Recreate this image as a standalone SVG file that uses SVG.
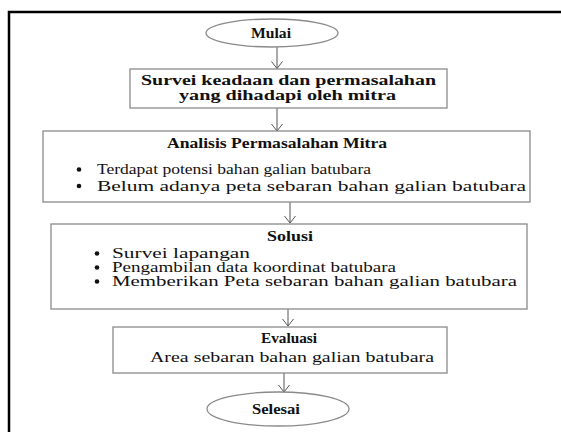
<svg xmlns="http://www.w3.org/2000/svg" width="561" height="432" viewBox="0 0 561 432">
<defs>
<marker id="ah" markerWidth="10" markerHeight="12" refX="8" refY="6" orient="auto" markerUnits="userSpaceOnUse" viewBox="0 0 10 12">
<polyline points="1,0.5 8,6 1,11.5" fill="none" stroke="#555" stroke-width="1"/>
</marker>
</defs>
<style>
.box{fill:#fff;stroke:#8a8a8a;stroke-width:1.3}
.t{font-family:"Liberation Serif","Times New Roman",serif;font-size:14px;fill:#111}
.b{font-weight:bold}
.c{text-anchor:middle}
.ln{stroke:#555;stroke-width:1;fill:none;marker-end:url(#ah)}
.dot{fill:#111}
</style>
<rect width="561" height="432" fill="#fff"/>
<path d="M9,432 V12 H561" fill="none" stroke="#000" stroke-width="2.5"/>
<g id="connectors">
<line class="ln" x1="277" y1="47" x2="277" y2="68.5"/>
<line class="ln" x1="277" y1="108" x2="277" y2="131"/>
<line class="ln" x1="290" y1="202" x2="290" y2="223"/>
<line class="ln" x1="288" y1="309" x2="288" y2="326"/>
<line class="ln" x1="284" y1="373" x2="284" y2="392"/>
</g>
<g id="mulai">
<ellipse class="box" cx="272" cy="33" rx="66" ry="14"/>
<text class="t b c" x="271" y="38" textLength="40" lengthAdjust="spacingAndGlyphs">Mulai</text>
</g>
<g id="survei">
<rect class="box" x="130" y="69" width="317" height="39"/>
<text class="t b c" x="288.5" y="85" textLength="295" lengthAdjust="spacingAndGlyphs">Survei keadaan dan permasalahan</text>
<text class="t b c" x="287.5" y="99.5" textLength="217" lengthAdjust="spacingAndGlyphs">yang dihadapi oleh mitra</text>
</g>
<g id="analisis">
<rect class="box" x="43" y="131" width="487" height="71"/>
<text class="t b c" x="277" y="147.5" textLength="220" lengthAdjust="spacingAndGlyphs">Analisis Permasalahan Mitra</text>
<circle class="dot" cx="79" cy="169.5" r="2.3"/>
<text class="t" x="97" y="174" textLength="274" lengthAdjust="spacingAndGlyphs">Terdapat potensi bahan galian batubara</text>
<circle class="dot" cx="79" cy="186" r="2.3"/>
<text class="t" x="97" y="190.5" textLength="429" lengthAdjust="spacingAndGlyphs">Belum adanya peta sebaran bahan galian batubara</text>
</g>
<g id="solusi">
<rect class="box" x="51" y="224" width="476" height="85"/>
<text class="t b c" x="290" y="241" textLength="46" lengthAdjust="spacingAndGlyphs">Solusi</text>
<circle class="dot" cx="97" cy="253.5" r="2.3"/>
<text class="t" x="112" y="258" textLength="138" lengthAdjust="spacingAndGlyphs">Survei lapangan</text>
<circle class="dot" cx="97" cy="267.5" r="2.3"/>
<text class="t" x="112" y="272" textLength="284" lengthAdjust="spacingAndGlyphs">Pengambilan data koordinat batubara</text>
<circle class="dot" cx="97" cy="281.5" r="2.3"/>
<text class="t" x="112" y="286" textLength="405" lengthAdjust="spacingAndGlyphs">Memberikan Peta sebaran bahan galian batubara</text>
</g>
<g id="evaluasi">
<rect class="box" x="113" y="327" width="334" height="46"/>
<text class="t b c" x="289" y="342.5" textLength="56" lengthAdjust="spacingAndGlyphs">Evaluasi</text>
<text class="t c" x="292" y="362" textLength="284" lengthAdjust="spacingAndGlyphs">Area sebaran bahan galian batubara</text>
</g>
<g id="selesai">
<ellipse class="box" cx="278" cy="409" rx="71" ry="17"/>
<text class="t b c" x="276" y="414" textLength="48" lengthAdjust="spacingAndGlyphs">Selesai</text>
</g>
</svg>
